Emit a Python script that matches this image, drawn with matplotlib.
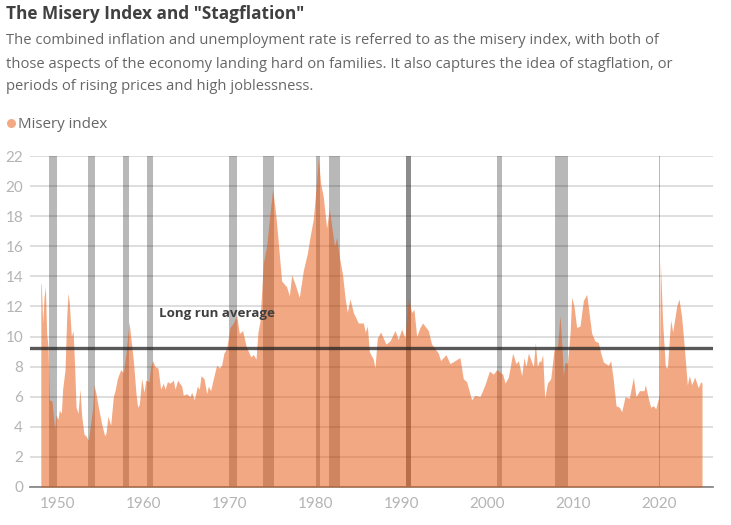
import matplotlib
matplotlib.use("Agg")
import matplotlib.pyplot as plt

years = [1948.0, 1948.06, 1948.22, 1948.37, 1948.53, 1948.68, 1948.84, 1948.99, 1949.30, 1949.46, 1949.61, 1949.77,
         1950.0, 1950.16, 1950.39, 1950.54, 1950.82, 1951.01, 1951.17, 1951.32, 1951.55, 1951.75, 1951.94,
         1952.10, 1952.33, 1952.56, 1952.76, 1953.03, 1953.26, 1953.53, 1953.80, 1954.04, 1954.19, 1954.42, 1954.70,
         1955.08, 1955.43, 1955.59, 1955.82, 1956.13, 1956.44, 1956.64, 1956.91, 1957.30, 1957.61, 1957.92,
         1958.27, 1958.46, 1958.77, 1959.08, 1959.27, 1959.47, 1959.74, 1960.01, 1960.21, 1960.59, 1960.79,
         1961.02, 1961.29, 1961.64, 1961.95, 1962.26, 1962.46, 1962.73, 1963.04, 1963.43, 1963.62, 1963.93,
         1964.40, 1964.59, 1964.98, 1965.37, 1965.56, 1965.87, 1966.22, 1966.45, 1966.65, 1967.0, 1967.31, 1967.5, 1967.77,
         1968.08, 1968.47, 1968.78, 1969.05, 1969.32, 1969.63, 1970.02, 1970.41, 1970.80,
         1971.11, 1971.49, 1971.88, 1972.43, 1972.74, 1973.05, 1973.28, 1973.51, 1973.90,
         1974.29, 1974.68, 1974.99, 1975.37, 1975.65, 1976.03, 1976.62, 1976.93, 1977.20, 1977.59,
         1978.09, 1978.56, 1979.02, 1979.33, 1979.72, 1980.03, 1980.30, 1980.57, 1980.88,
         1981.27, 1981.58, 1981.89, 1982.20, 1982.44, 1982.75, 1983.13, 1983.41, 1983.68, 1983.99,
         1984.38, 1984.96, 1985.54, 1985.77, 1986.01, 1986.24, 1986.70, 1986.90, 1987.17, 1987.56, 1987.79,
         1988.18, 1988.64, 1989.23, 1989.61, 1990.0, 1990.39, 1990.78, 1991.17, 1991.44, 1991.75,
         1992.14, 1992.45, 1993.11, 1993.49, 1994.27, 1994.54, 1995.16, 1995.63, 1996.79, 1997.18, 1997.57,
         1998.15, 1998.54, 1999.12, 1999.71, 2000.22, 2000.68, 2001.07, 2001.77, 2002.04, 2002.43, 2002.93,
         2003.32, 2003.59, 2003.98, 2004.25, 2004.48, 2004.76, 2005.14, 2005.34, 2005.57, 2005.80,
         2006.04, 2006.19, 2006.42, 2006.66, 2006.97, 2007.36, 2007.74, 2008.13, 2008.44, 2008.67, 2008.83,
         2009.02, 2009.30, 2009.61, 2009.80, 2010.07, 2010.38, 2010.77, 2011.16, 2011.55, 2012.13, 2012.52, 2012.90,
         2013.18, 2013.49, 2014.07, 2014.34, 2014.65, 2014.96, 2015.35, 2015.62, 2016.01, 2016.51, 2016.98,
         2017.29, 2017.68, 2018.22, 2018.37, 2018.72, 2019.0, 2019.31, 2019.58, 2020.0, 2020.12, 2020.39, 2020.70, 2020.94,
         2021.32, 2021.56, 2022.02, 2022.29, 2022.60, 2022.88, 2023.26, 2023.50, 2023.77, 2024.12, 2024.54, 2024.82, 2024.97]
misery = [13.5, 13.5, 10.9, 12.6, 13.3, 10.2, 9.3, 5.8, 5.7, 4.7, 3.8, 4.8,
          4.5, 5.1, 4.9, 6.5, 7.8, 11.3, 12.9, 12.2, 10.0, 10.4, 8.0,
          5.3, 4.9, 6.5, 4.7, 3.5, 3.4, 3.1, 4.2, 5.3, 6.8, 6.2, 5.3,
          4.2, 3.4, 3.6, 4.7, 4.1, 6.0, 6.4, 7.2, 7.8, 7.6, 8.9,
          11.0, 10.0, 8.4, 6.2, 5.3, 5.5, 7.2, 6.3, 7.1, 7.0, 8.0,
          8.4, 8.0, 7.9, 6.5, 6.9, 6.5, 7.0, 6.9, 7.1, 6.5, 7.1,
          6.7, 6.1, 6.2, 6.0, 6.3, 5.8, 6.7, 6.5, 7.4, 7.2, 6.2, 6.7, 6.4,
          7.2, 8.1, 7.9, 8.1, 8.9, 9.2, 10.6, 10.9, 11.4,
          10.2, 10.4, 9.4, 8.65, 8.8, 8.5, 10.3, 11.0, 14.9,
          16.0, 18.2, 19.8, 18.0, 16.2, 13.7, 13.3, 12.7, 14.1, 13.5,
          12.6, 14.4, 15.5, 16.6, 17.8, 19.8, 21.9, 20.2, 19.3,
          17.2, 18.5, 17.2, 16.0, 16.6, 15.3, 14.1, 12.6, 11.6, 12.5,
          11.6, 10.9, 10.9, 10.3, 10.7, 9.0, 8.5, 7.9, 9.9, 10.3, 10.0,
          9.5, 9.7, 10.4, 9.8, 10.5, 9.9, 12.5, 11.6, 11.8, 10.0,
          10.6, 10.9, 10.4, 9.5, 8.9, 8.4, 8.8, 8.2, 8.6, 7.2, 7.0,
          5.8, 6.1, 6.0, 6.8, 7.7, 7.5, 7.8, 7.5, 6.9, 7.3, 8.9,
          8.2, 8.4, 7.4, 8.6, 8.0, 8.9, 8.3, 8.0, 9.6, 8.0,
          8.4, 8.3, 8.8, 5.9, 6.9, 7.2, 9.1, 9.2, 11.4, 9.3, 7.4,
          8.3, 8.2, 10.2, 12.6, 12.0, 10.6, 10.7, 12.4, 12.8, 10.2, 9.7, 9.6,
          8.9, 8.3, 8.1, 8.4, 7.1, 5.4, 5.3, 5.0, 6.0, 5.9, 7.3,
          6.0, 6.4, 6.4, 6.8, 5.9, 5.3, 5.4, 5.2, 6.1, 15.0, 10.9, 8.0, 7.9,
          11.1, 10.3, 12.0, 12.5, 11.3, 9.5, 6.8, 7.4, 6.8, 7.3, 6.6, 7.0, 6.9]

rec_start = [1948.95, 1953.53, 1957.61, 1960.32, 1969.9, 1973.86, 1980.03, 1981.54, 1990.47, 2001.11, 2007.86, 2020.0]
rec_end = [1949.85, 1954.31, 1958.27, 1961.06, 1970.8, 1975.14, 1980.5, 1982.82, 1991.09, 2001.69, 2009.37, 2020.12]
long_run_avg = 9.25
y_ticks = list(range(0, 24, 2))
x_ticks = [1950, 1960, 1970, 1980, 1990, 2000, 2010, 2020]

AREA = "#e55309"

def main():
    plt.rcParams['font.family'] = ['Open Sans', 'DejaVu Sans']
    fig = plt.figure(figsize=(7.31, 5.25), dpi=100)
    W, H = 731, 525
    ax = fig.add_axes([30/W, 1-487/H, (713-30)/W, (487-156)/H])

    ax.set_xlim(1946.74, 2026.25)
    ax.set_ylim(0, 22)
    ax.set_yticks(y_ticks)
    ax.set_xticks(x_ticks)
    ax.grid(axis='y', color='#d4d4d4', lw=1.1, zorder=1)
    ax.set_axisbelow(True)
    for s in ['top', 'left', 'right']:
        ax.spines[s].set_visible(False)
    ax.spines['bottom'].set_color('#808080')
    ax.spines['bottom'].set_linewidth(1.2)
    ax.tick_params(axis='both', length=0, colors='#b4b4b4')
    ax.tick_params(axis='x', pad=7)
    ax.tick_params(axis='y', pad=5)
    for lab in ax.get_xticklabels() + ax.get_yticklabels():
        lab.set_fontfamily('Lato')
        lab.set_fontsize(11)

    for a, b in zip(rec_start, rec_end):
        ax.axvspan(a, b, color='#000000', alpha=0.45 if a == 1990.47 else 0.28, lw=0, zorder=2)

    ax.fill_between(years, misery, 0, color=AREA, alpha=0.5, lw=0, zorder=3)
    ax.axhline(long_run_avg, color='#222222', alpha=0.75, lw=2.4, zorder=4)
    ax.text(1961.7, 11.5, "Long run average", fontsize=9.6, fontweight='bold', color='#404040',
            ha='left', va='center', zorder=5)

    fig.text(6/W, 1-14/H, 'The Misery Index and "Stagflation"', fontsize=12.4, fontweight='bold',
             color='#404040', ha='left', va='center')
    subtitle = ["The combined inflation and unemployment rate is referred to as the misery index, with both of",
                "those aspects of the economy landing hard on families. It also captures the idea of stagflation, or",
                "periods of rising prices and high joblessness."]
    for line, y in zip(subtitle, [41, 64, 87]):
        fig.text(6/W, 1-y/H, line, fontsize=10.6, color='#666666', ha='left', va='center')

    ax_dot = fig.add_axes([0, 0, 1, 1], facecolor='none')
    ax_dot.set_axis_off()
    ax_dot.set_xlim(0, W)
    ax_dot.set_ylim(H, 0)
    ax_dot.scatter([11], [123], s=42, color='#f2a984', lw=0)
    fig.text(18/W, 1-124/H, "Misery index", fontsize=10.9, color='#666666', ha='left', va='center')

    fig.savefig("out.png", dpi=100)
    plt.close()

if __name__ == '__main__': main()
